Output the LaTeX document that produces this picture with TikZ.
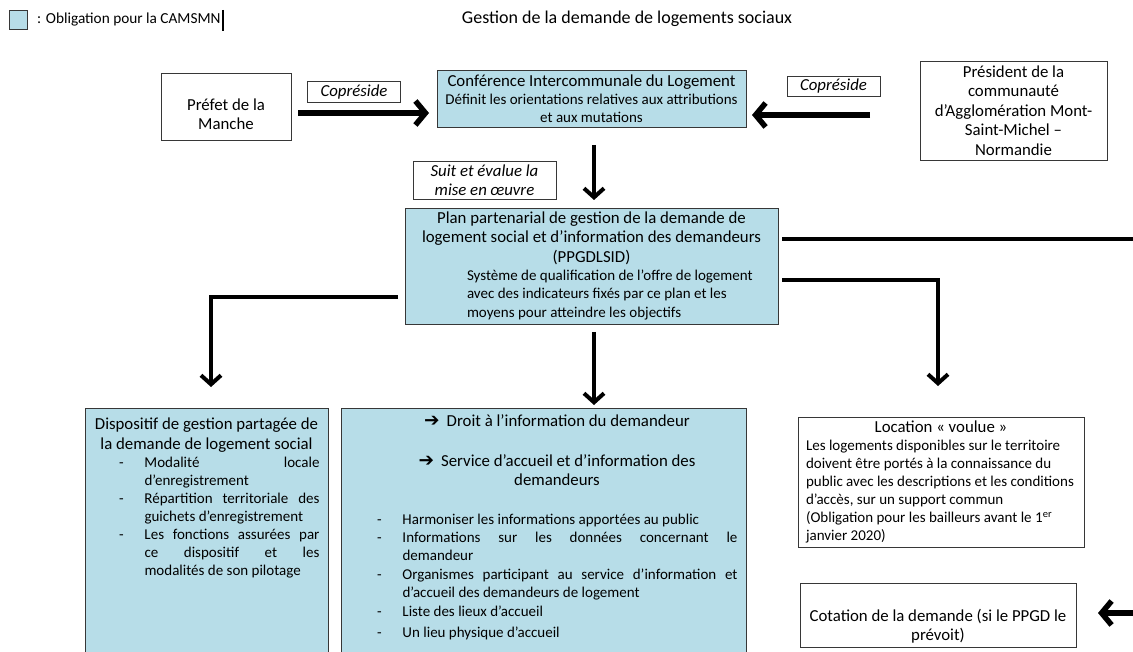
\documentclass[tikz,border=0pt]{standalone}
\usepackage{fontspec}
\setmainfont{Carlito}
\newfontfamily\symb{DejaVu Sans}
\usepackage[dvipsnames]{xcolor}
\usetikzlibrary{arrows.meta}

\definecolor{bleuclair}{RGB}{183,221,232}
\definecolor{bordure}{RGB}{55,55,55}

\newcommand{\grand}{\fontsize{16.8}{19.5}\selectfont}
\newcommand{\petit}{\fontsize{15}{18}\selectfont}
\newcommand{\tiret}{\makebox[25.5pt][l]{-}}
\newcommand{\fleche}{{\symb\fontsize{18.5}{18}\selectfont ➔}\hspace{7pt}}

\begin{document}
\begin{tikzpicture}[x=1pt, y=-1pt,
    plain box/.style={draw=bordure, line width=0.9pt, inner sep=0pt, outer sep=0pt, align=flush center, font=\grand},
    blue box/.style={plain box, fill=bleuclair},
    label box/.style={plain box, font=\grand\itshape},
    list text/.style={inner sep=0pt, outer sep=0pt, align=left, font=\petit},
    thick arrow/.style={line width=5.5pt, -{Straight Barb[length=10pt,width=24pt]}},
    thin arrow/.style={line width=4pt, -{Straight Barb[length=9pt,width=20pt]}},
    thick line/.style={line width=4.5pt}]
\useasboundingbox (0,0) rectangle (1133,652);

% legende et titre
\node[blue box, minimum width=18pt, minimum height=19pt, anchor=north west] (carre) at (9,10) {};
\node[font=\fontsize{15.3}{18}\selectfont, anchor=west, inner sep=0pt] (legende) at (37,20) {: Obligation pour la CAMSMN};
\draw[line width=1.8pt] ([xshift=2pt]legende.east) ++(0,-10) -- ++(0,21);
\node[font=\fontsize{18}{21}\selectfont, inner sep=0pt] (titre) at (627,19) {Gestion de la demande de logements sociaux};

% niveau du haut
\node[plain box, text width=130pt, minimum height=67pt] (prefet) at (226,106.5) {\rule{0pt}{27pt}Préfet de la\\Manche};
\node[label box, text width=93pt, minimum height=21pt] (copreside1) at (354,92) {Copréside};
\node[blue box, text width=309pt, minimum height=57pt] (cil) at (591.5,98.5) {Conférence Intercommunale du Logement\\\petit Définit les orientations relatives aux attributions\\[-2pt]et aux mutations};
\node[label box, text width=93pt, minimum height=20pt] (copreside2) at (833.5,86) {Copréside};
\node[plain box, text width=187pt, minimum height=99pt] (president) at (1013.5,110.5) {Président de la\\communauté\\d’Agglomération Mont-\\Saint-Michel –\\Normandie};
\node[label box, text width=143pt, minimum height=38pt] (suivi) at (484.5,180) {Suit et évalue la\\mise en œuvre};

% plan partenarial
\node[blue box, text width=373pt, minimum height=116pt] (ppg) at (591.5,266) {Plan partenarial de gestion de la demande de\\logement social et d’information des demandeurs\\(PPGDLSID)\\\petit
\makebox[373pt][l]{\hspace*{62pt}Système de qualification de l’offre de logement}\\
\makebox[373pt][l]{\hspace*{62pt}avec des indicateurs fixés par ce plan et les}\\
\makebox[373pt][l]{\hspace*{62pt}moyens pour atteindre les objectifs}};

% dispositif de gestion partagee
\node[blue box, minimum width=243pt, minimum height=252pt, anchor=north west] (disp) at (85,408) {};
\node[inner sep=0pt, align=center, font=\grand] (dispTitre) at (206.5,435) {Dispositif de gestion partagée de\\la demande de logement social};
\node[list text, anchor=north west] (dispListe) at (119,457) {\tiret\makebox[175pt][s]{Modalité locale}\\
\hspace*{25.5pt}d’enregistrement\\
\tiret\makebox[175pt][s]{Répartition territoriale des}\\
\hspace*{25.5pt}guichets d’enregistrement\\
\tiret\makebox[175pt][s]{Les fonctions assurées par}\\
\hspace*{25.5pt}\makebox[175pt][s]{ce dispositif et les}\\
\hspace*{25.5pt}modalités de son pilotage};

% droit a l'information
\node[blue box, minimum width=405pt, minimum height=252pt, anchor=north west] (droits) at (341,408) {};
\node[inner sep=0pt, font=\grand] (droit) at (557,421) {\fleche Droit à l’information du demandeur};
\node[inner sep=0pt, align=center, font=\grand] (service) at (557,470) {\fleche Service d’accueil et d’information des\\demandeurs};
\node[list text, anchor=north west] (actions) at (377,514) {\tiret Harmoniser les informations apportées au public\\
\tiret\makebox[335pt][s]{Informations sur les données concernant le}\\
\hspace*{25.5pt}demandeur\\[1.5pt]
\tiret\makebox[335pt][s]{Organismes participant au service d’information et}\\
\hspace*{25.5pt}d’accueil des demandeurs de logement\\[1pt]
\tiret Liste des lieux d’accueil\\[3pt]
\tiret Un lieu physique d’accueil};

% location voulue et cotation
\node[plain box, align=left, font=\petit, minimum width=286pt, minimum height=130pt] (location) at (941,482) {\makebox[270pt]{\grand Location « voulue »}\\
Les logements disponibles sur le territoire\\
doivent être portés à la connaissance du\\
public avec les descriptions et les conditions\\
d’accès, sur un support commun\\
(Obligation pour les bailleurs avant le 1\textsuperscript{er}\\
janvier 2020)};
\node[plain box, text width=276pt, minimum height=64pt] (cotation) at (938,615) {\rule{0pt}{35pt}Cotation de la demande (si le PPGD le\\prévoit)};

\coordinate (bordHaut) at (1136,239);
\coordinate (bordBas) at (1136,613);

% liaisons
\draw[thick arrow] ([shift={(7,6.5)}]prefet.east) -- ([shift={(-8,14.5)}]cil.west);
\draw[thick arrow] ([shift={(-50,4.5)}]president.west) -- ([shift={(6,16.5)}]cil.east);
\draw[thin arrow] ([shift={(2.5,18)}]cil.south) -- ([shift={(2.5,-8)}]ppg.north);
\draw[thick line] ([shift={(4,-27)}]ppg.east) -- (bordHaut);
\draw[thin arrow] ([shift={(4,14)}]ppg.east) -| ([shift={(-3,-31)}]location.north);
\draw[thin arrow] ([shift={(-7,31)}]ppg.west) -| ([shift={(4.5,-21)}]disp.north);
\draw[thin arrow] ([shift={(2.5,8)}]ppg.south) -- ([shift={(50.5,-3)}]droits.north);
\draw[thick arrow] (bordBas) -- ([shift={(22,-2)}]cotation.east);
\end{tikzpicture}
\end{document}
